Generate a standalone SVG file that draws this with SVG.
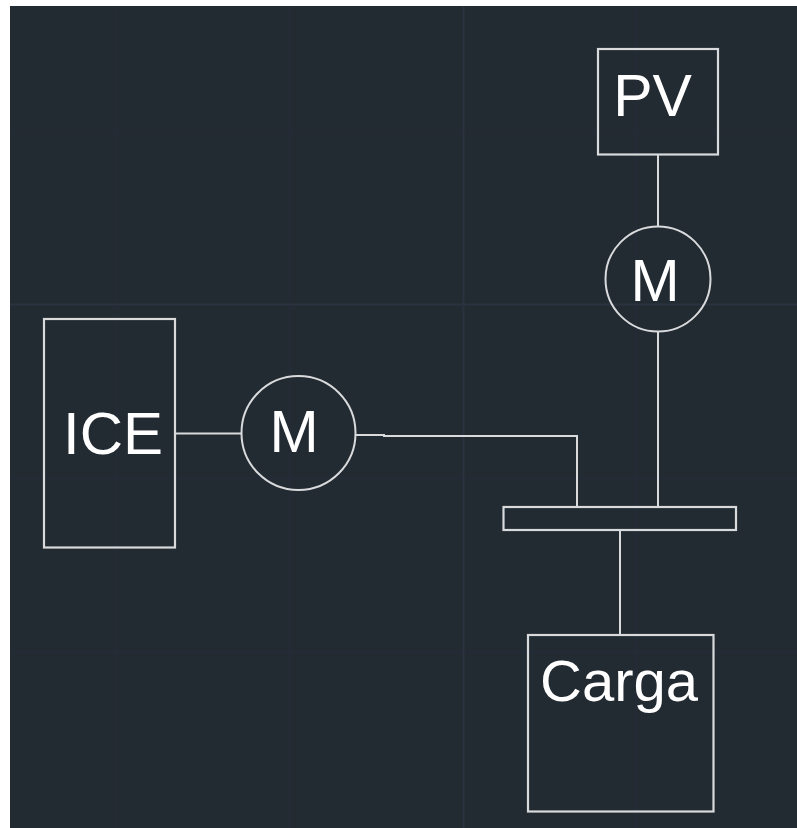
<svg xmlns="http://www.w3.org/2000/svg" width="797" height="828" viewBox="0 0 797 828">
<style>
.s{fill:none;stroke:#d8dadc;stroke-width:2.200}
.c{fill:none;stroke:#d8dadc;stroke-width:2}
.t{fill:#fff;font-family:"Liberation Sans",Arial,sans-serif;text-anchor:middle}
.g1{stroke:#2b323f;stroke-width:2;fill:none}
.g2{stroke:#262d38;stroke-width:1.5;fill:none}
</style>
<rect width="797" height="828" fill="#fff"/>
<rect x="10" y="6" width="787" height="822" fill="#222a32"/>
<g id="grid">
<path class="g2" d="M117 6V828M290 6V828M636 6V828M10 133H797M10 478H797M10 652H797"/>
<path class="g1" d="M463.500 6V828M10 304.500H797"/>
</g>
<g id="connectors">
<path class="c" d="M658 155V227"/>
<path class="c" d="M658 332V507"/>
<path class="c" d="M175 433.500H242"/>
<path class="c" d="M355 435H384V436H577V507"/>
<path class="c" d="M620 530V635"/>
</g>
<g id="pv"><rect class="s" x="598" y="49" width="120" height="105.500"/><text class="t" x="652.500" y="116" font-size="59">PV</text></g>
<g id="m-top"><circle class="c" cx="658" cy="279" r="52.500"/><text class="t" x="655" y="301" font-size="59">M</text></g>
<g id="ice"><rect class="s" x="44" y="319" width="131" height="228.500"/><text class="t" x="113" y="454" font-size="60">ICE</text></g>
<g id="m-left"><circle class="c" cx="298.500" cy="433" r="57"/><text class="t" x="294" y="452" font-size="59">M</text></g>
<g id="bus"><rect class="s" x="503.500" y="507" width="232.500" height="23"/></g>
<g id="carga"><rect class="s" x="528" y="635" width="185.500" height="176.500"/><text class="t" x="619" y="701" font-size="58">Carga</text></g>
</svg>
